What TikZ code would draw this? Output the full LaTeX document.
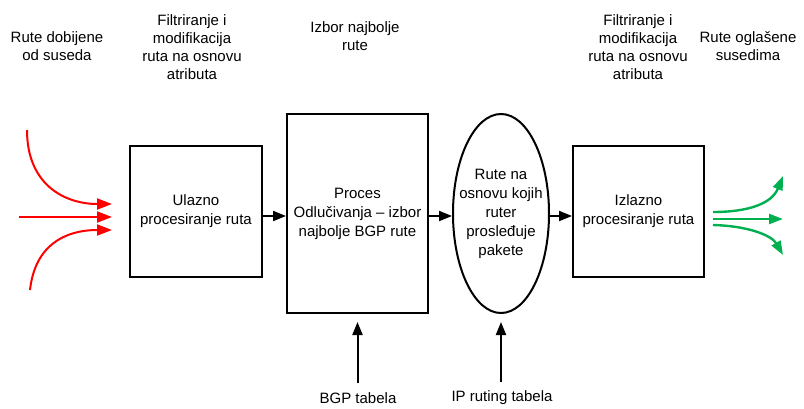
\documentclass[tikz,border=0pt]{standalone}
\usepackage{fontspec}
\setmainfont{Liberation Sans}
\usetikzlibrary{arrows.meta,shapes.geometric}
\definecolor{rgreen}{RGB}{0,176,80}
\definecolor{rred}{RGB}{255,0,0}
\begin{document}
\begin{tikzpicture}[x=1pt,y=-1pt,
  lbl/.style={align=center,font=\fontsize{15}{18}\selectfont,inner sep=0pt},
  box/.style={draw,line width=2pt,align=center,font=\fontsize{15}{19}\selectfont,inner sep=2pt},
  arr/.style={line width=2pt,-{Triangle[length=13pt,width=10pt]}},
  redarr/.style={draw=rred,line width=2pt,-{Triangle[length=15pt,width=11pt]},fill=none},
  grnarr/.style={draw=rgreen,line width=2.4pt,-{Triangle[length=14pt,width=10pt]},fill=none}]
\useasboundingbox (0,0) rectangle (804,408);
% boxes
\node[box,minimum width=132pt,minimum height=131pt] (b1) at (196,211.5) {Ulazno\\procesiranje ruta};
\node[box,minimum width=141pt,minimum height=199pt] (b2) at (357.5,213.5) {Proces\\Odlučivanja – izbor\\najbolje BGP rute};
\node[box,ellipse,inner xsep=-12pt,inner ysep=0pt,minimum width=96pt,minimum height=199pt] (ell) at (501,213.5) {Rute na\\osnovu kojih\\ruter\\prosleđuje\\pakete};
\node[box,minimum width=131pt,minimum height=131pt] (b4) at (638.5,211.5) {Izlazno\\procesiranje ruta};
% labels
\node[lbl] (t1) at (57,46) {Rute dobijene\\od suseda};
\node[lbl] (t2) at (192,47) {Filtriranje i\\modifikacija\\ruta na osnovu\\atributa};
\node[lbl] (t3) at (355,36) {Izbor najbolje\\rute};
\node[lbl] (t4) at (638,47) {Filtriranje i\\modifikacija\\ruta na osnovu\\atributa};
\node[lbl] (t5) at (748,46) {Rute oglašene\\susedima};
\node[lbl] (bgp) at (358,398) {BGP tabela};
\node[lbl] (ip) at (502,398) {IP ruting tabela};
% connectors between shapes
\draw[arr] ([yshift=-4.5pt]b1.east) -- ([yshift=-2.5pt]b2.west);
\draw[arr] ([yshift=-2.5pt]b2.east) -- ([yshift=-2.5pt]ell.east -| ell.west);
\draw[arr] ([yshift=-2.5pt]ell.east) -- ([yshift=-4.5pt]b4.west);
\draw[arr,shorten <=9pt,shorten >=8pt] (bgp.north -| b2.south) -- (b2.south);
\draw[arr,shorten <=9pt,shorten >=8pt] (ip.north -| ell.south) -- (ell.south);
% red incoming arrows
\coordinate (r1s) at (27,130);
\coordinate (r2s) at (19,217);
\coordinate (r3s) at (30,290);
\coordinate (r1e) at ([shift={(-17,-7.5)}]b1.west);
\coordinate (r2e) at ([shift={(-17,5.5)}]b1.west);
\coordinate (r3e) at ([shift={(-17,18.5)}]b1.west);
\draw[redarr] (r1s) .. controls (27,185) and (65,204) .. (r1e);
\draw[redarr] (r2s) -- (r2e);
\draw[redarr] (r3s) .. controls (35,245) and (65,230) .. (r3e);
% green outgoing arrows
\coordinate (g1s) at ([shift={(8,0.5)}]b4.east);
\coordinate (g2s) at ([shift={(8,7.5)}]b4.east);
\coordinate (g3s) at ([shift={(8,13.5)}]b4.east);
\coordinate (g1e) at (783,176);
\coordinate (g2e) at (783,219);
\coordinate (g3e) at (783,255);
\draw[grnarr] (g1s) .. controls (750,212) and (772,203) .. (g1e);
\draw[grnarr] (g2s) -- (g2e);
\draw[grnarr] (g3s) .. controls (750,226) and (772,236) .. (g3e);
\end{tikzpicture}
\end{document}
